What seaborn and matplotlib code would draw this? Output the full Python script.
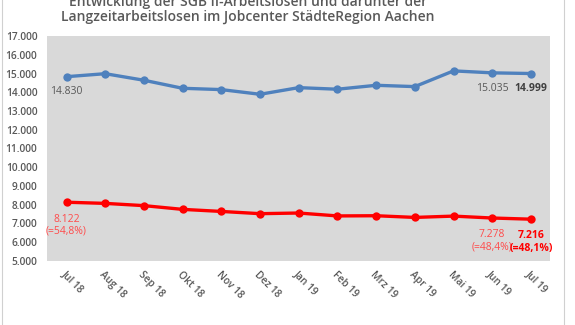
import matplotlib
matplotlib.use("Agg")
import matplotlib.pyplot as plt
import matplotlib.ticker as mticker
import seaborn as sns
import pandas as pd

monate = ["Jul 18", "Aug 18", "Sep 18", "Okt 18", "Nov 18", "Dez 18", "Jan 19",
          "Feb 19", "Mrz 19", "Apr 19", "Mai 19", "Jun 19", "Jul 19"]
arbeitslose = [14830, 14990, 14640, 14210, 14140, 13890, 14245,
               14160, 14370, 14300, 15140, 15035, 14999]
langzeit = [8122, 8060, 7940, 7740, 7630, 7510, 7545,
            7390, 7400, 7310, 7380, 7278, 7216]
anteil = {0: "54,8", 11: "48,4", 12: "48,1"}

BLUE = "#4F81BD"
RED = "#FF0000"
GREY_TXT = "#595959"

df = pd.DataFrame({
    "Monat": monate * 2,
    "Anzahl": arbeitslose + langzeit,
    "Reihe": ["SGB II"] * len(monate) + ["Langzeit"] * len(monate),
})

sns.set_theme(style="white")
plt.rcParams["font.family"] = ["Open Sans", "DejaVu Sans"]

fig = plt.figure(figsize=(5.75, 3.25), dpi=100)
ax = fig.add_axes([0.082, 0.198, 0.875, 0.691])
ax.set_facecolor("#D9D9D9")

sns.lineplot(data=df, x="Monat", y="Anzahl", hue="Reihe",
             palette={"SGB II": BLUE, "Langzeit": RED},
             marker="o", markersize=6, markeredgewidth=0, linewidth=2.4,
             legend=False, ax=ax, sort=False)

ax.set_xlim(-0.5, len(monate) - 0.5)
ax.set_ylim(5000, 17000)
ax.yaxis.set_major_locator(mticker.MultipleLocator(1000))
ax.yaxis.set_major_formatter(mticker.FuncFormatter(lambda v, p: f"{int(v):,}".replace(",", ".")))
ax.set_xlabel("")
ax.set_ylabel("")
for s in ax.spines.values():
    s.set_visible(False)
ax.tick_params(axis="y", length=0, pad=7, labelsize=7.3, labelcolor=GREY_TXT)
ax.tick_params(axis="x", length=0, pad=6, labelsize=7.3, labelcolor=GREY_TXT)
for lab in ax.get_yticklabels():
    lab.set_fontweight("semibold")
for lab in ax.get_xticklabels():
    lab.set_rotation(-45)
    lab.set_ha("left")
    lab.set_va("top")
    lab.set_rotation_mode("anchor")
    lab.set_fontweight("semibold")

def fmt(v):
    return f"{v:,}".replace(",", ".")

# Value labels for the blue series
for i in (0, 11, 12):
    bold = i == 12
    ax.annotate(fmt(arbeitslose[i]), (i, arbeitslose[i]), xytext=(0, -11),
                textcoords="offset points", ha="center", va="center",
                fontsize=7.5, color="#404040" if bold else GREY_TXT,
                fontweight="bold" if bold else "normal")

# Value labels with share for the red series
for i in (0, 11, 12):
    bold = i == 12
    ax.annotate(f"{fmt(langzeit[i])}\n(={anteil[i]}%)", (i, langzeit[i]), xytext=(0, -16.5),
                textcoords="offset points", ha="center", va="center",
                fontsize=7.5, color=RED if bold else "#FF4B4B", linespacing=1.15,
                fontweight="bold" if bold else "normal")

fig.text(0.431, 0.995, "Entwicklung der SGB II-Arbeitslosen und darunter der",
         ha="center", va="center", fontsize=10, fontweight="semibold", color=GREY_TXT)
fig.text(0.431, 0.947, "Langzeitarbeitslosen im Jobcenter StädteRegion Aachen",
         ha="center", va="center", fontsize=10, fontweight="semibold", color=GREY_TXT)

# outer chart frame
fig.add_artist(plt.Rectangle((0.003, -0.1), 0.977, 1.2, transform=fig.transFigure,
                             fill=False, edgecolor="#D0D0D0", linewidth=0.8))

fig.savefig("out.png", dpi=100)
